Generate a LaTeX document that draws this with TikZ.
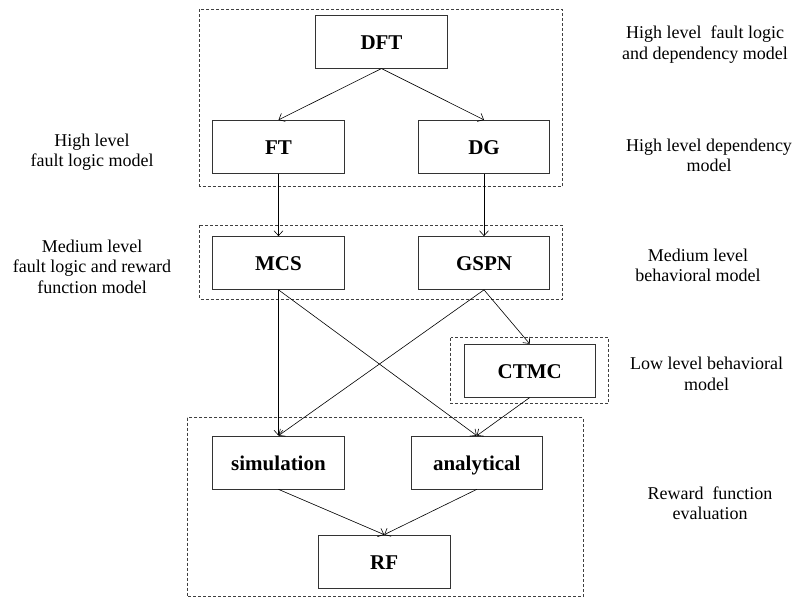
\documentclass[tikz,border=0pt]{standalone}
\usepackage{fontspec}
\setmainfont{Liberation Serif}
\usetikzlibrary{arrows.meta}

\tikzset{
  model/.style={draw=black!80, line width=0.7pt, minimum width=131.6pt,
    minimum height=53pt, inner sep=0pt, text height=15pt, text depth=0pt,
    font=\fontsize{21}{24}\selectfont\bfseries},
  group/.style={draw=black!75, line width=0.7pt, dash pattern=on 3pt off 2pt},
  flow/.style={draw=black, line width=0.6pt,
    -{Straight Barb[length=5pt,width=9pt,line width=0.6pt]}},
  % anchored at the baseline of the last line
  levelnote/.style={anchor=base, align=center, inner sep=0pt,
    font=\fontsize{18}{20.5}\selectfont}
}

\begin{document}
\begin{tikzpicture}[x=1pt,y=-1pt]
  \useasboundingbox (0,0) rectangle (796,598);

  % grouping frames
  \draw[group] (199.3,9.3) rectangle (562.5,186);
  \draw[group] (199.3,225.3) rectangle (562.5,299);
  \draw[group] (450.7,337.7) rectangle (608.7,403.3);
  \draw[group] (187.3,417.7) rectangle (583.3,596.7);

  % models
  \node[model] (dft)  at (381.5,41.7)  {DFT};
  \node[model] (ft)   at (278.5,146.7) {FT};
  \node[model] (dg)   at (484,146.7)   {DG};
  \node[model] (mcs)  at (278.5,263)   {MCS};
  \node[model] (gspn) at (484,263)     {GSPN};
  \node[model] (ctmc) at (529.7,370.7) {CTMC};
  \node[model] (sim)  at (278.5,462.5) {simulation};
  \node[model] (ana)  at (476.8,462.5) {analytical};
  \node[model] (rf)   at (384.2,561.5) {RF};

  % transformations
  \draw[flow] (dft.south)  -- (ft.north);
  \draw[flow] (dft.south)  -- (dg.north);
  \draw[flow] (ft.south)   -- (mcs.north);
  \draw[flow] (dg.south)   -- (gspn.north);
  \draw[flow] (mcs.south)  -- (sim.north);
  \draw[flow] (mcs.south)  -- (ana.north);
  \draw[flow] (gspn.south) -- (sim.north);
  \draw[flow] (gspn.south) -- (ctmc.north);
  \draw[flow] (ctmc.south) -- (ana.north);
  \draw[flow] (sim.south)  -- (rf.north);
  \draw[flow] (ana.south)  -- (rf.north);

  % level descriptions
  \node[levelnote] (n1) at (705,59.3)   {High level\ \ fault logic\\and dependency model};
  \node[levelnote] (n2) at (92,166.7)   {High level\\fault logic model};
  \node[levelnote] (n3) at (709,171.7)  {High level dependency\\model};
  \node[levelnote] (n4) at (92,293)     {Medium level\\fault logic and reward\\function model};
  \node[levelnote] (n5) at (698,281.7)  {Medium level\\behavioral model};
  \node[levelnote] (n6) at (706.7,390)  {Low level behavioral\\model};
  \node[levelnote] (n7) at (710,519.5)  {Reward\ \ function\\evaluation};
\end{tikzpicture}
\end{document}
